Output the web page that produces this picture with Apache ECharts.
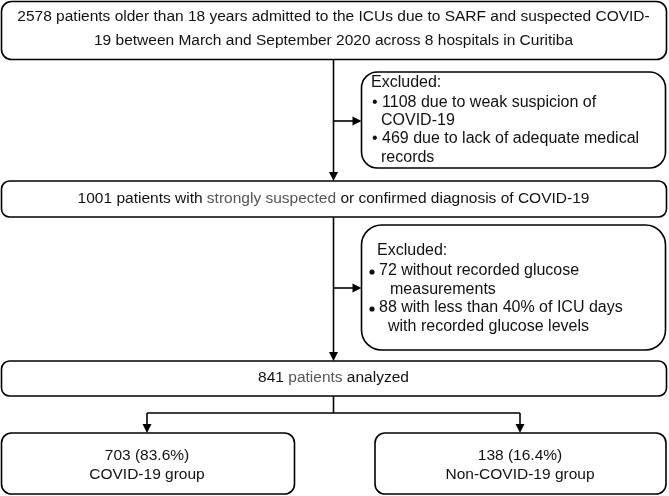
<!DOCTYPE html>
<html><head><meta charset="utf-8">
<script src="https://cdn.jsdelivr.net/npm/echarts@6/dist/echarts.min.js"></script>
<style>html,body{margin:0;padding:0;background:#fff}#c{width:669px;height:496px}</style>
</head><body><div id="c"></div>
<script>
// ---- data ----
const stageCounts = [2578, 1001, 841];
const exclusion1Counts = [1108, 469];
const exclusion1Reasons = ['due to weak suspicion of', 'due to lack of adequate medical'];
const exclusion1Wraps = ['COVID-19', 'records'];
const exclusion2Counts = [72, 88];
const exclusion2Reasons = ['without recorded glucose', 'with less than 40% of ICU days'];
const exclusion2Wraps = ['measurements', 'with recorded glucose levels'];
const groupNames = ['COVID-19 group', 'Non-COVID-19 group'];
const groupCounts = [703, 138];
const groupPercents = [83.6, 16.4];

// ---- layout ----
const FONT = '"Liberation Sans", Arial, sans-serif';
const FS = 16;      // exclusion boxes
const FM = 15.5;    // main boxes
const LW = 1.6;
const CX = 333.5;
const elements = [];

function box(x, y, w, h, r) {
  elements.push({ type: 'rect', shape: { x, y, width: w, height: h, r },
    style: { fill: '#fff', stroke: '#000', lineWidth: LW } });
}
function line(x1, y1, x2, y2) {
  elements.push({ type: 'line', shape: { x1, y1, x2, y2 },
    style: { stroke: '#000', lineWidth: LW } });
}
function arrowDown(x, y) { // tip at (x,y)
  elements.push({ type: 'polygon', shape: { points: [[x - 4.5, y - 9], [x + 4.5, y - 9], [x, y]] },
    style: { fill: '#000' } });
}
function arrowRight(x, y) {
  elements.push({ type: 'polygon', shape: { points: [[x - 9, y - 4.5], [x - 9, y + 4.5], [x, y]] },
    style: { fill: '#000' } });
}
function dot(x, y) {
  elements.push({ type: 'circle', shape: { cx: x, cy: y, r: 2.6 }, style: { fill: '#111' } });
}
function text(x, y, str, align, rich, size) {
  const s = size || FS;
  elements.push({ type: 'text', x, y, style: {
    text: str, font: s + 'px ' + FONT, fill: '#111',
    align: align || 'center', verticalAlign: 'middle', rich: rich || {} } });
}
const grey = { g: { fill: '#555', color: '#555', font: FM + 'px ' + FONT } };

// connectors
line(CX, 59, CX, 178); arrowDown(CX, 181);
line(CX, 121, 355, 121); arrowRight(CX + 28, 121);
line(CX, 217, CX, 357); arrowDown(CX, 361);
line(CX, 288, 355, 288); arrowRight(CX + 28, 288);
line(CX, 396, CX, 413);
line(147, 413, 520, 413);
line(147, 413, 147, 430); arrowDown(147, 433);
line(520, 413, 520, 430); arrowDown(520, 433);

// box 1
box(1.5, 1.5, 665, 58, 10);
text(CX, 17, stageCounts[0] + ' patients older than 18 years admitted to the ICUs due to SARF and suspected COVID-', 'center', null, FM);
text(CX, 41, '19 between March and September 2020 across 8 hospitals in Curitiba', 'center', null, FM);

// exclusion 1
box(361.5, 72, 304, 96, 16);
text(371, 83, 'Excluded:', 'left');
text(372, 103, '\u2022 ' + exclusion1Counts[0] + ' ' + exclusion1Reasons[0], 'left');
text(381, 121, exclusion1Wraps[0], 'left');
text(372, 139, '\u2022 ' + exclusion1Counts[1] + ' ' + exclusion1Reasons[1], 'left');
text(381, 158, exclusion1Wraps[1], 'left');

// box 2
box(1.5, 181, 665, 36, 8);
text(CX, 199, stageCounts[1] + ' patients with {g|strongly suspected} or confirmed diagnosis of COVID-19', 'center', grey, FM);

// exclusion 2
box(361.5, 225, 304, 125, 20);
text(377, 251, 'Excluded:', 'left');
dot(372, 272);
text(379, 271, exclusion2Counts[0] + ' ' + exclusion2Reasons[0], 'left');
text(390, 290, exclusion2Wraps[0], 'left');
dot(372, 309);
text(379, 308, exclusion2Counts[1] + ' ' + exclusion2Reasons[1], 'left');
text(388, 327, exclusion2Wraps[1], 'left');

// box 3
box(1.5, 361, 665, 35, 8);
text(CX, 378, stageCounts[2] + ' {g|patients} analyzed', 'center', grey, FM);

// group boxes
box(1.5, 433, 293, 61, 10);
text(147, 456, groupCounts[0] + ' (' + groupPercents[0].toFixed(1) + '%)', 'center', null, FM);
text(147, 475, groupNames[0], 'center', null, FM);
box(375, 433, 291, 61, 10);
text(520, 456, groupCounts[1] + ' (' + groupPercents[1].toFixed(1) + '%)', 'center', null, FM);
text(520, 475, groupNames[1], 'center', null, FM);

const chart = echarts.init(document.getElementById('c'), null, { renderer: 'canvas' });
chart.setOption({ animation: false, backgroundColor: '#fff', graphic: { elements } });
</script></body></html>
